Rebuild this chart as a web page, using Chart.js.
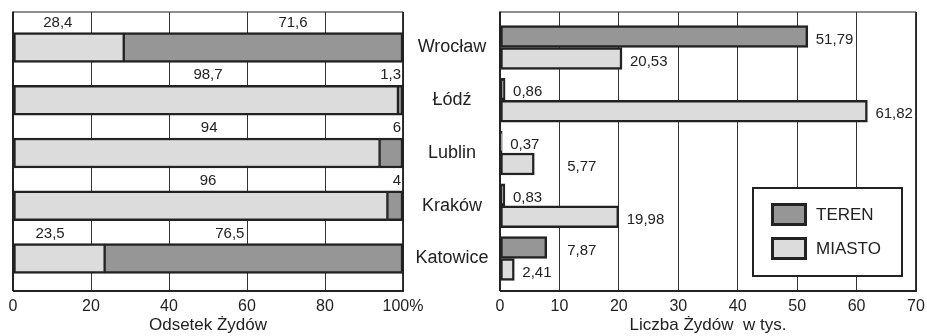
<!DOCTYPE html>
<html>
<head>
<meta charset="utf-8">
<script src="https://cdn.jsdelivr.net/npm/chart.js@4.4.1/dist/chart.umd.min.js"></script>
<style>
  html, body { margin: 0; padding: 0; background: #fff; }
  #wrap { position: relative; width: 927px; height: 336px; overflow: hidden; background: #fff; }
  #share { position: absolute; left: 0; top: 0; }
  #count { position: absolute; left: 410px; top: 0; }
</style>
</head>
<body>
<div id="wrap">
  <canvas id="share" width="424" height="336"></canvas>
  <canvas id="count" width="517" height="336"></canvas>
</div>
<script>
// Jewish population by voivodeship: share (%) and count (thousands)
const cities     = ['Wrocław', 'Łódź', 'Lublin', 'Kraków', 'Katowice'];
const shareCity  = [28.4, 98.7, 94, 96, 23.5];        // MIASTO, %
const shareArea  = [71.6, 1.3, 6, 4, 76.5];           // TEREN, %
const countArea  = [51.79, 0.86, 0.37, 0.83, 7.87];   // TEREN, thousands
const countCity  = [20.53, 61.82, 5.77, 19.98, 2.41]; // MIASTO, thousands
const shareTicks = [0, 20, 40, 60, 80, 100];
const countTicks = [0, 10, 20, 30, 40, 50, 60, 70];

// where the percentage captions sit (in % units, or 'end' = flush right)
const shareLabelSpots = [[11.5, 71.8], [50, 'end'], [50.3, 'end'], [50, 'end'], [9.5, 55.6]];
// count captions that are moved off their bar end (value-axis position)
const countLabelMoves = { 'Lublin|1': 11.3, 'Katowice|0': 11.3 };

const FONT = "'Liberation Sans', Arial, sans-serif";
const INK = '#222';
const DARK = '#969696';
const LIGHT = '#dcdcdc';
const EDGE = '#222';

const fmt = v => String(v).replace('.', ',');
const pts = arr => arr.map((v, i) => ({ x: v, y: i }));

// category positions on a numeric band axis, reversed top-to-bottom
const BAND_MIN = -0.673, BAND_MAX = 4.616;

function valueAxis(ticksArr, title, tickFmt) {
  return {
    type: 'linear',
    position: 'bottom',
    bounds: 'data',
    min: ticksArr[0],
    max: ticksArr[ticksArr.length - 1],
    afterBuildTicks: s => { s.ticks = ticksArr.map(v => ({ value: v })); },
    afterFit: s => { s.height = 45; s.paddingLeft = 0; s.paddingRight = 0; },
    grid: { color: '#333', lineWidth: 1, drawTicks: false, tickLength: 0 },
    border: { display: false },
    ticks: {
      padding: 6, color: INK, autoSkip: false, maxRotation: 0,
      font: { family: FONT, size: 16 },
      callback: tickFmt
    },
    title: {
      display: true, text: title, color: INK,
      font: { family: FONT, size: 17 },
      padding: { top: 1, bottom: 0 }
    }
  };
}

function bandAxis(extra) {
  return Object.assign({
    type: 'linear', bounds: 'data', offset: false,
    min: BAND_MIN, max: BAND_MAX, reverse: true
  }, extra);
}

const framePlugin = {
  id: 'frame',
  afterDraw(chart) {
    const { ctx, chartArea: a } = chart;
    ctx.save();
    ctx.strokeStyle = EDGE;
    ctx.lineWidth = 1.2;
    ctx.beginPath(); ctx.moveTo(a.left, a.top); ctx.lineTo(a.right, a.top); ctx.stroke();
    ctx.lineWidth = 1.8;
    ctx.beginPath(); ctx.moveTo(a.right, a.top); ctx.lineTo(a.right, a.bottom); ctx.stroke();
    ctx.lineWidth = 2;
    ctx.beginPath(); ctx.moveTo(a.left, a.top - 0.6); ctx.lineTo(a.left, a.bottom); ctx.stroke();
    ctx.beginPath(); ctx.moveTo(a.left, a.bottom); ctx.lineTo(a.right + 0.9, a.bottom); ctx.stroke();
    ctx.restore();
  }
};

// ---- left: percentage split (stacked to 100%) ----
const shareCaptions = {
  id: 'shareCaptions',
  afterDatasetsDraw(chart) {
    const { ctx, chartArea: a } = chart;
    const xs = chart.scales.x;
    const metaCity = chart.getDatasetMeta(0);
    ctx.save();
    ctx.fillStyle = INK;
    ctx.font = '15px ' + FONT;
    ctx.textBaseline = 'middle';
    cities.forEach((c, i) => {
      const bar = metaCity.data[i];
      const y = bar.y - bar.height / 2 - 10;
      const vals = [shareCity[i], shareArea[i]];
      shareLabelSpots[i].forEach((spot, k) => {
        if (spot === 'end') {
          ctx.textAlign = 'right';
          ctx.fillText(fmt(vals[k]), a.right - 2, y);
        } else {
          ctx.textAlign = 'center';
          ctx.fillText(fmt(vals[k]), xs.getPixelForValue(spot), y);
        }
      });
    });
    ctx.restore();
  }
};

new Chart(document.getElementById('share'), {
  type: 'bar',
  data: {
    datasets: [
      { label: 'MIASTO', data: pts(shareCity), backgroundColor: LIGHT, borderColor: EDGE,
        borderWidth: { top: 2.5, bottom: 2.5, left: 2.5, right: 1.5 }, borderSkipped: false },
      { label: 'TEREN', data: pts(shareArea), backgroundColor: DARK, borderColor: EDGE,
        borderWidth: { top: 2.5, bottom: 2.5, left: 1.5, right: 2.5 }, borderSkipped: false }
    ]
  },
  options: {
    indexAxis: 'y',
    responsive: false,
    animation: false,
    devicePixelRatio: 1,
    barThickness: 30,
    layout: { padding: { left: 13, right: 21, top: 12, bottom: 0 } },
    plugins: { legend: { display: false }, tooltip: { enabled: false } },
    scales: {
      x: Object.assign(valueAxis(shareTicks, 'Odsetek Żydów', v => v === 100 ? '100%' : String(v)), { stacked: true }),
      y: bandAxis({ stacked: true, display: false })
    }
  },
  plugins: [shareCaptions, framePlugin]
});

// ---- right: counts in thousands (grouped) ----
const countCaptions = {
  id: 'countCaptions',
  afterDatasetsDraw(chart) {
    const { ctx } = chart;
    const xs = chart.scales.x;
    ctx.save();
    ctx.fillStyle = INK;
    ctx.font = '15px ' + FONT;
    ctx.textBaseline = 'middle';
    ctx.textAlign = 'left';
    chart.data.datasets.forEach((ds, di) => {
      chart.getDatasetMeta(di).data.forEach((bar, i) => {
        const key = cities[i] + '|' + di;
        const x = key in countLabelMoves ? xs.getPixelForValue(countLabelMoves[key]) : bar.x + 8;
        ctx.fillText(fmt(ds.data[i].x), x, bar.y + 3);
      });
    });
    ctx.restore();
  }
};

const countLegend = {
  id: 'countLegend',
  afterDraw(chart) {
    const { ctx, chartArea: a } = chart;
    const right = a.right - 14, bottom = a.bottom - 15;
    const w = 149, h = 88;
    const left = right - w, top = bottom - h;
    ctx.save();
    ctx.fillStyle = '#fff';
    ctx.fillRect(left, top, w, h);
    ctx.strokeStyle = EDGE;
    ctx.lineWidth = 2;
    ctx.strokeRect(left, top, w, h);
    const rows = [top + 15, top + 49];
    chart.data.datasets.forEach((ds, k) => {
      const sx = left + 18, sy = rows[k];
      ctx.fillStyle = ds.backgroundColor;
      ctx.fillRect(sx, sy, 36, 23);
      ctx.lineWidth = 3;
      ctx.strokeStyle = EDGE;
      ctx.strokeRect(sx + 1.5, sy + 1.5, 33, 20);
      ctx.fillStyle = INK;
      ctx.font = '17px ' + FONT;
      ctx.textAlign = 'left';
      ctx.textBaseline = 'middle';
      ctx.fillText(ds.label, sx + 45, sy + 12);
    });
    ctx.restore();
  }
};

new Chart(document.getElementById('count'), {
  type: 'bar',
  data: {
    datasets: [
      { label: 'TEREN', data: pts(countArea), backgroundColor: DARK, borderColor: EDGE,
        borderWidth: 2.5, borderSkipped: false },
      { label: 'MIASTO', data: pts(countCity), backgroundColor: LIGHT, borderColor: EDGE,
        borderWidth: 2.5, borderSkipped: false }
    ]
  },
  options: {
    indexAxis: 'y',
    responsive: false,
    animation: false,
    devicePixelRatio: 1,
    barThickness: 22,
    layout: { padding: { left: 0, right: 11, top: 12, bottom: 0 } },
    plugins: { legend: { display: false }, tooltip: { enabled: false } },
    scales: {
      x: valueAxis(countTicks, 'Liczba Żydów  w tys.', v => String(v)),
      y: bandAxis({
        afterBuildTicks: s => { s.ticks = cities.map((c, i) => ({ value: i })); },
        afterFit: s => { s.width = 90; s.paddingTop = 0; s.paddingBottom = 0; },
        grid: { display: false, drawTicks: false, tickLength: 0 },
        border: { display: false },
        ticks: {
          crossAlign: 'center', padding: 11.5, color: INK, autoSkip: false,
          font: { family: FONT, size: 18 },
          callback: v => cities[v] ?? ''
        }
      })
    }
  },
  plugins: [countCaptions, countLegend, framePlugin]
});
</script>
</body>
</html>
